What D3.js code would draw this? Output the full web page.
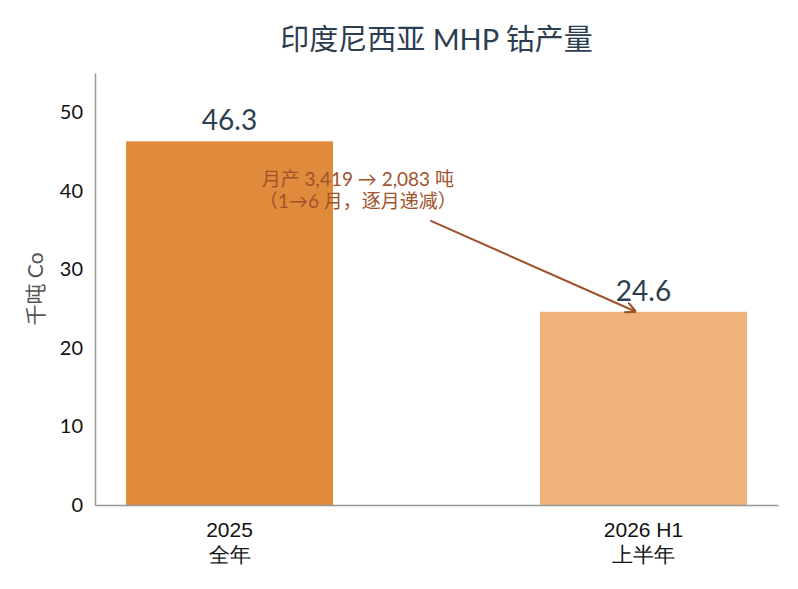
<!DOCTYPE html>
<html>
<head>
<meta charset="utf-8">
<script src="https://cdn.jsdelivr.net/npm/d3@7"></script>
<style>
  html, body { margin: 0; padding: 0; background: #fff; }
  svg { display: block; font-family: "Lato", "Noto Sans CJK SC", sans-serif; }
</style>
</head>
<body>
<svg id="chart" width="798" height="589"></svg>
<script>
// ---- data ----
const categories = ["2025\n全年", "2026 H1\n上半年"];
const values = [46.3, 24.6];
const barColors = ["#E08B3C", "#F0B27A"];
const yTicks = [0, 10, 20, 30, 40, 50];
const yDomain = [0, 55];
const title = "印度尼西亚 MHP 钴产量";
const yLabel = "千吨 Co";
const noteLines = ["月产 3,419 → 2,083 吨", "（1→6 月，逐月递减）"];
// annotation anchors in data space: [position between bar 0 and bar 1, value]
const noteText = [0.31, 41.4];
const arrowFrom = [0.485, 36.2];
const arrowTo = [0.982, 24.6];

// ---- layout ----
const svg = d3.select("#chart");
const margin = { left: 95, right: 20, top: 73, bottom: 84 };
const W = 798, H = 589;
const x = d3.scaleBand().domain(d3.range(categories.length))
  .range([margin.left, W - margin.right]).paddingInner(0.5).paddingOuter(0.075);
const y = d3.scaleLinear().domain(yDomain).range([H - margin.bottom, margin.top]);
const cx = i => x(0) + x.bandwidth() / 2 + i * (x(1) - x(0));

// bars
svg.append("g").selectAll("rect").data(values).join("rect")
  .attr("x", (d, i) => x(i)).attr("width", x.bandwidth())
  .attr("y", d => y(d)).attr("height", d => y(0) - y(d))
  .attr("fill", (d, i) => barColors[i]);

// value labels
svg.append("g").selectAll("text").data(values).join("text")
  .attr("x", (d, i) => x(i) + x.bandwidth() / 2).attr("y", d => y(d) - 11)
  .attr("text-anchor", "middle").attr("font-size", 28).attr("fill", "#2C3E50")
  .text(d => d.toFixed(1));

// y axis
const yAxis = svg.append("g").attr("transform", `translate(${margin.left},0)`)
  .call(d3.axisLeft(y).tickValues(yTicks).tickSize(0).tickPadding(12));
yAxis.select(".domain").attr("stroke", "#999").attr("stroke-width", 1.5);
yAxis.selectAll("text").attr("font-size", 20).attr("fill", "#111")
  .attr("font-family", "Lato, sans-serif");

// x axis
const xAxis = svg.append("g").attr("transform", `translate(0,${y(0)})`)
  .call(d3.axisBottom(x).tickSize(0).tickPadding(0).tickFormat(""));
xAxis.select(".domain").attr("stroke", "#999").attr("stroke-width", 1.5);
xAxis.selectAll(".tick").each(function (d) {
  const lines = categories[d].split("\n");
  const t = d3.select(this).append("text").attr("fill", "#111").attr("font-size", 21)
    .attr("text-anchor", "middle");
  lines.forEach((l, k) => t.append("tspan").attr("x", 0).attr("y", 32 + k * 25).text(l));
});

// y label
svg.append("text")
  .attr("transform", `translate(43,${(y(0) + y(yDomain[1])) / 2}) rotate(-90)`)
  .attr("text-anchor", "middle").attr("font-size", 21).attr("fill", "#555")
  .text(yLabel);

// title
svg.append("text").attr("x", (margin.left + W - margin.right) / 2).attr("y", 50)
  .attr("text-anchor", "middle").attr("font-size", 29).attr("fill", "#2C3E50")
  .text(title);

// annotation
const noteColor = "#A0522D";
svg.append("defs").append("marker").attr("id", "ah")
  .attr("viewBox", "0 0 10 10").attr("refX", 10).attr("refY", 5)
  .attr("markerWidth", 11).attr("markerHeight", 11).attr("markerUnits", "userSpaceOnUse")
  .attr("orient", "auto")
  .append("path").attr("d", "M0,0 L10,5 L0,10").attr("fill", "none")
  .attr("stroke", noteColor).attr("stroke-width", 2);
svg.append("line")
  .attr("x1", cx(arrowFrom[0])).attr("y1", y(arrowFrom[1]))
  .attr("x2", cx(arrowTo[0])).attr("y2", y(arrowTo[1]))
  .attr("stroke", noteColor).attr("stroke-width", 2).attr("marker-end", "url(#ah)");
const nt = svg.append("text").attr("text-anchor", "middle").attr("font-size", 19)
  .attr("fill", noteColor);
noteLines.forEach((l, k) => nt.append("tspan").attr("x", cx(noteText[0]))
  .attr("y", y(noteText[1]) + 6 + k * 22).text(l));
</script>
</body>
</html>
